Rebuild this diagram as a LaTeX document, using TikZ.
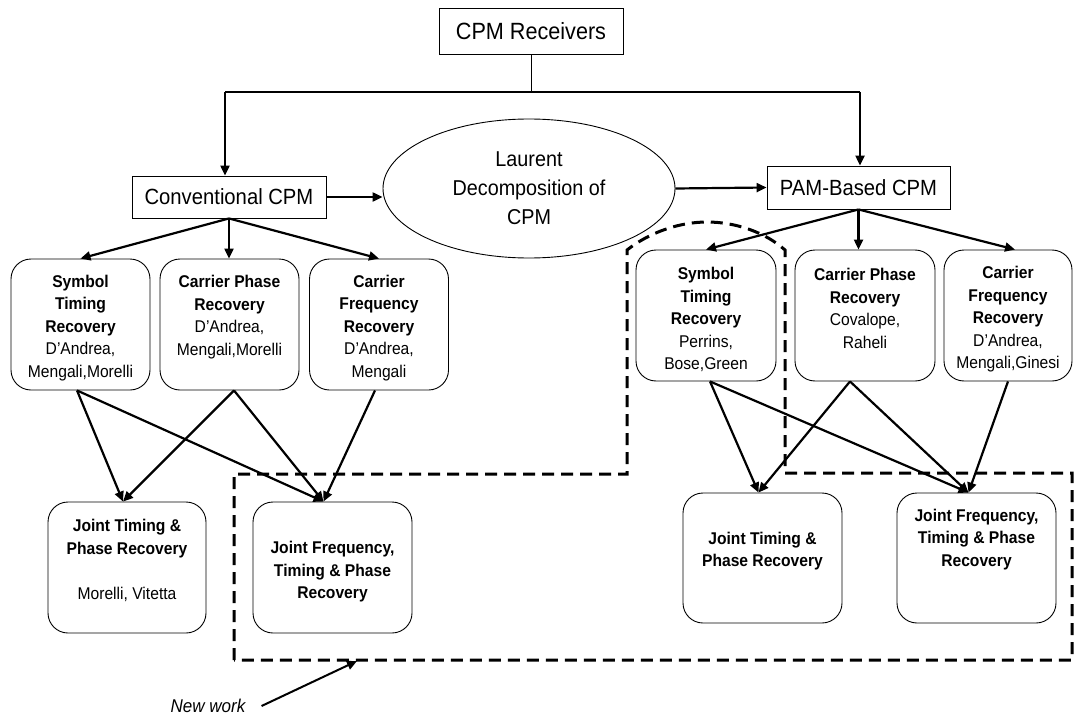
\documentclass[tikz,border=0pt]{standalone}
\usepackage{fontspec}
\setmainfont{Liberation Sans}[FakeStretch=0.92]
\usetikzlibrary{arrows.meta,shapes.geometric,calc}

\begin{document}
\begin{tikzpicture}[x=1pt,y=-1pt,
  plainbox/.style={draw, line width=0.9pt, rectangle, inner sep=0pt},
  rbox/.style={draw, line width=0.9pt, rectangle, rounded corners=20pt, inner sep=0pt},
  toprow/.style={rbox, minimum width=139pt, minimum height=131pt},
  bottomrow/.style={rbox, minimum width=158pt, minimum height=131pt},
  txt/.style={align=center, inner sep=0pt, font=\fontsize{17}{22.5}\selectfont},
  arr/.style={line width=2.2pt, -{Triangle[length=10pt,width=9pt]}},
  newwork/.style={line width=3pt, dash pattern=on 12pt off 7pt}
]
\fill[white] (0,0) rectangle (1074,717);
\useasboundingbox (0,0) rectangle (1074,717);

% --- top level ---
\node[plainbox, minimum width=184pt, minimum height=46pt,
      font=\fontsize{23.5}{28}\selectfont] (rcv) at (531,31) {CPM Receivers};
\node[plainbox, minimum width=194pt, minimum height=42pt,
      font=\fontsize{22}{26}\selectfont] (conv) at (229,197) {Conventional CPM};
\node[plainbox, minimum width=183pt, minimum height=43pt,
      font=\fontsize{22}{26}\selectfont] (pam) at (858.5,187.5) {PAM-Based CPM};
\node[ellipse, draw, line width=0.9pt, minimum width=292pt, minimum height=139pt,
      inner sep=0pt, align=center, font=\fontsize{21.5}{29}\selectfont]
      (ell) at (529,188.5) {Laurent\\Decomposition of\\CPM};

\coordinate (jL) at (225,92);
\coordinate (jR) at (860,92);
\draw[line width=1pt] (rcv.south) -- (rcv.south |- jL);
\draw[line width=1.4pt] (jL) -- (jR);
\draw[arr] (jL) -- (jL |- conv.north);
\draw[arr] (jR) -- (jR |- pam.north);
\draw[arr] (conv.east) -- (conv.east -| ell.west);
\draw[arr] (ell.east) -- (pam.west);

% --- conventional CPM branch ---
\node[toprow] (b1) at (80.5,324.5) {};
\node[toprow] (b2) at (229.5,324.5) {};
\node[toprow] (b3) at (379,324.5) {};
\node[txt] (b1t) at (80.5,328) {\textbf{Symbol}\\\textbf{Timing}\\\textbf{Recovery}\\D'Andrea,\\Mengali,Morelli};
\node[txt] (b2t) at (229.5,317) {\textbf{Carrier Phase}\\\textbf{Recovery}\\D'Andrea,\\Mengali,Morelli};
\node[txt] (b3t) at (379,328) {\textbf{Carrier}\\\textbf{Frequency}\\\textbf{Recovery}\\D'Andrea,\\Mengali};

\draw[arr] (conv.south) -- (b1.north);
\draw[arr] (conv.south) -- (conv.south |- b2.north);
\draw[arr] (conv.south) -- (b3.north);

\node[bottomrow] (b7) at (127,567.5) {};
\node[bottomrow, minimum width=159pt] (b8) at (332.5,567.5) {};
\node[txt] (b7t) at (127,560.5) {\textbf{Joint Timing \&}\\\textbf{Phase Recovery}\\\mbox{}\\Morelli, Vitetta};
\node[txt] (b8t) at (332.5,572) {\textbf{Joint Frequency,}\\\textbf{Timing \& Phase}\\\textbf{Recovery}};

\coordinate (t7) at ([xshift=-4pt]b7.north);
\coordinate (t8) at ([xshift=-9pt]b8.north);
\draw[arr] ([xshift=-3.5pt]b1.south) -- (t7);
\draw[arr] ([xshift=-3.5pt]b1.south) -- (t8);
\draw[arr] ([xshift=4.5pt]b2.south) -- (t7);
\draw[arr] ([xshift=4.5pt]b2.south) -- (t8);
\draw[arr] ([xshift=-4pt]b3.south) -- (t8);

% --- PAM-based CPM branch ---
\node[toprow, minimum width=140pt] (b4) at (706,315.5) {};
\node[toprow, minimum width=140pt] (b5) at (865,315.5) {};
\node[toprow, minimum width=128pt] (b6) at (1008,315.5) {};
\node[txt] (b4t) at (706,319.5) {\textbf{Symbol}\\\textbf{Timing}\\\textbf{Recovery}\\Perrins,\\Bose,Green};
\node[txt] (b5t) at (865,308.5) {\textbf{Carrier Phase}\\\textbf{Recovery}\\Covalope,\\Raheli};
\node[txt] (b6t) at (1008,319.5) {\textbf{Carrier}\\\textbf{Frequency}\\\textbf{Recovery}\\D'Andrea,\\Mengali,Ginesi};

\draw[arr] (pam.south) -- (b4.north);
\draw[arr] (pam.south) -- (pam.south |- b5.north);
\draw[arr] (pam.south) -- ([xshift=7pt]b6.north);

\node[bottomrow, minimum width=159pt, minimum height=130pt] (b9) at (762.5,558) {};
\node[bottomrow, minimum width=159pt, minimum height=130pt] (b10) at (976.5,558) {};
\node[txt] (b9t) at (762.5,551) {\textbf{Joint Timing \&}\\\textbf{Phase Recovery}};
\node[txt] (b10t) at (976.5,539.5) {\textbf{Joint Frequency,}\\\textbf{Timing \& Phase}\\\textbf{Recovery}};

\coordinate (t9) at ([xshift=-4pt]b9.north);
\coordinate (t10) at ([xshift=-8pt]b10.north);
\draw[arr] ([xshift=4pt]b4.south) -- (t9);
\draw[arr] ([xshift=4pt]b4.south) -- (t10);
\draw[arr] ([xshift=-15pt]b5.south) -- (t9);
\draw[arr] ([xshift=-15pt]b5.south) -- (t10);
\draw[arr] (b6.south) -- (t10);

% --- outline of the new contributions ---
\draw[newwork] (234,660) -- (234,474) -- (627,474) -- (627,250)
  .. controls (650,232) and (680,222) .. (707,222)
  .. controls (735,222) and (765,232) .. (785,250)
  -- (785,473) -- (1072,473) -- (1072,660) -- cycle;

\node[font=\itshape\fontsize{18.5}{22}\selectfont, inner sep=0pt] (nw) at (208,706) {New work};
\coordinate (nwtip) at (357,661);
\draw[arr, line width=2pt] ([xshift=16pt]nw.east) -- (nwtip);
\end{tikzpicture}
\end{document}
